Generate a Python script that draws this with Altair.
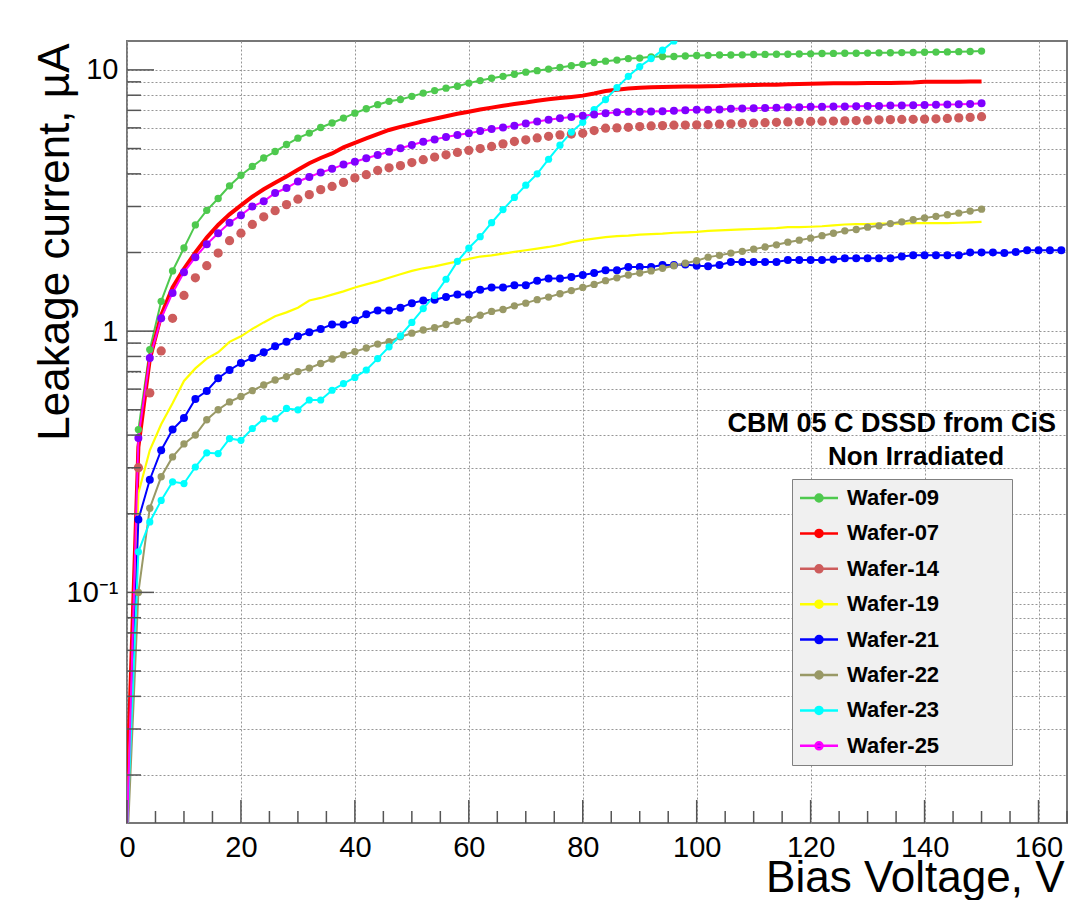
import altair as alt
import pandas as pd

# ---------------- data ----------------
series_names = ["Wafer-09", "Wafer-07", "Wafer-14", "Wafer-19",
                "Wafer-21", "Wafer-22", "Wafer-23", "Wafer-25"]

volt_150 = list(range(0, 151, 2))
volt_164 = list(range(0, 165, 2))
volt_98 = list(range(0, 99, 2))

w09 = [0.012, 0.42, 0.85, 1.3, 1.7, 2.08, 2.55, 2.9, 3.22, 3.6,
       3.95, 4.27, 4.6, 4.87, 5.18, 5.48, 5.73, 6.02, 6.26, 6.54,
       6.83, 7.1, 7.36, 7.58, 7.7, 7.92, 8.15, 8.33, 8.51, 8.66,
       8.9, 9.1, 9.29, 9.45, 9.62, 9.8, 9.93, 10.07, 10.21, 10.37,
       10.5, 10.67, 10.8, 10.9, 11.05, 11.1, 11.22, 11.25, 11.25, 11.3,
       11.35, 11.37, 11.4, 11.4, 11.42, 11.45, 11.46, 11.48, 11.48, 11.5,
       11.52, 11.55, 11.56, 11.58, 11.58, 11.6, 11.62, 11.63, 11.65, 11.66,
       11.68, 11.7, 11.72, 11.74, 11.76, 11.8]

w07 = [0.017, 0.36, 0.78, 1.15, 1.47, 1.73, 2.0, 2.28, 2.55, 2.8,
       3.03, 3.27, 3.49, 3.7, 3.91, 4.15, 4.39, 4.6, 4.79, 5.05,
       5.26, 5.47, 5.68, 5.89, 6.05, 6.2, 6.36, 6.5, 6.65, 6.79,
       6.92, 7.05, 7.17, 7.29, 7.4, 7.5, 7.62, 7.72, 7.8, 7.88,
       7.97, 8.12, 8.3, 8.4, 8.48, 8.55, 8.58, 8.6, 8.62, 8.63,
       8.63, 8.65, 8.67, 8.72, 8.73, 8.75, 8.77, 8.78, 8.82, 8.83,
       8.85, 8.86, 8.88, 8.88, 8.89, 8.9, 8.9, 8.91, 8.92, 8.94,
       9.0, 9.0, 9.01, 9.01, 9.02, 9.02]

w14 = [0.012, 0.30, 0.58, 0.84, 1.12, 1.37, 1.6, 1.78, 1.99, 2.22,
       2.37, 2.56, 2.74, 2.89, 3.05, 3.2, 3.33, 3.48, 3.58, 3.71,
       3.86, 3.97, 4.12, 4.22, 4.3, 4.42, 4.53, 4.64, 4.73, 4.83,
       4.92, 5.0, 5.09, 5.21, 5.32, 5.4, 5.49, 5.57, 5.64, 5.68,
       5.72, 5.86, 5.98, 6.0, 6.03, 6.07, 6.1, 6.12, 6.14, 6.15,
       6.16, 6.17, 6.2, 6.22, 6.24, 6.26, 6.28, 6.3, 6.32, 6.34,
       6.35, 6.36, 6.37, 6.38, 6.4, 6.42, 6.44, 6.45, 6.46, 6.47,
       6.48, 6.5, 6.52, 6.55, 6.58, 6.62]

w19 = [0.012, 0.24, 0.35, 0.44, 0.53, 0.645, 0.72, 0.785, 0.83, 0.91,
       0.955, 1.02, 1.08, 1.14, 1.18, 1.23, 1.31, 1.34, 1.38, 1.42,
       1.47, 1.51, 1.55, 1.6, 1.65, 1.7, 1.74, 1.77, 1.81, 1.85,
       1.89, 1.93, 1.95, 1.98, 2.01, 2.04, 2.07, 2.1, 2.14, 2.19,
       2.23, 2.26, 2.29, 2.31, 2.32, 2.34, 2.35, 2.36, 2.38, 2.39,
       2.4, 2.42, 2.43, 2.44, 2.45, 2.46, 2.47, 2.48, 2.5, 2.5,
       2.51, 2.52, 2.54, 2.56, 2.57, 2.57, 2.58, 2.58, 2.58, 2.59,
       2.59, 2.59, 2.59, 2.6, 2.61, 2.62]

w21 = [0.012, 0.19, 0.27, 0.35, 0.42, 0.465, 0.55, 0.59, 0.66, 0.71,
       0.755, 0.79, 0.83, 0.875, 0.91, 0.955, 0.99, 1.02, 1.06, 1.06,
       1.1, 1.16, 1.2, 1.2, 1.23, 1.28, 1.31, 1.32, 1.35, 1.38,
       1.38, 1.44, 1.47, 1.47, 1.5, 1.5, 1.56, 1.59, 1.59, 1.61,
       1.64, 1.67, 1.71, 1.71, 1.76, 1.76, 1.76, 1.79, 1.79, 1.8,
       1.78, 1.77, 1.79, 1.84, 1.84, 1.84, 1.84, 1.84, 1.87, 1.87,
       1.87, 1.87, 1.88, 1.9, 1.9, 1.9, 1.9, 1.9, 1.93, 1.95,
       1.95, 1.95, 1.95, 1.95, 2.0, 2.0, 2.0, 1.99, 2.01, 2.04,
       2.04, 2.04, 2.04]

w22 = [0.010, 0.10, 0.21, 0.277, 0.33, 0.37, 0.4, 0.458, 0.5, 0.536,
       0.562, 0.592, 0.622, 0.65, 0.67, 0.7, 0.722, 0.752, 0.782, 0.812,
       0.835, 0.862, 0.892, 0.912, 0.952, 0.982, 1.01, 1.03, 1.06, 1.09,
       1.11, 1.15, 1.19, 1.21, 1.25, 1.28, 1.32, 1.35, 1.39, 1.43,
       1.47, 1.51, 1.56, 1.6, 1.64, 1.67, 1.7, 1.74, 1.78, 1.82,
       1.86, 1.92, 1.95, 1.99, 2.02, 2.06, 2.1, 2.14, 2.19, 2.23,
       2.27, 2.32, 2.37, 2.42, 2.45, 2.5, 2.53, 2.58, 2.62, 2.67,
       2.71, 2.75, 2.79, 2.83, 2.88, 2.93]

w23 = [0.012, 0.143, 0.186, 0.225, 0.265, 0.261, 0.302, 0.342, 0.34, 0.388,
       0.382, 0.424, 0.462, 0.462, 0.506, 0.5, 0.545, 0.545, 0.594, 0.63,
       0.665, 0.71, 0.785, 0.871, 0.96, 1.08, 1.22, 1.37, 1.58, 1.85,
       2.08, 2.3, 2.6, 2.92, 3.25, 3.62, 4.0, 4.55, 5.15, 5.78,
       6.3, 7.05, 7.7, 8.55, 9.45, 10.3, 11.05, 11.9, 12.9, 14.0]

w25 = [0.012, 0.39, 0.79, 1.12, 1.4, 1.68, 1.92, 2.15, 2.37, 2.6,
       2.78, 3.0, 3.14, 3.38, 3.53, 3.74, 3.89, 4.05, 4.18, 4.34,
       4.45, 4.59, 4.72, 4.86, 5.01, 5.16, 5.31, 5.42, 5.53, 5.63,
       5.72, 5.83, 5.94, 6.02, 6.11, 6.23, 6.35, 6.44, 6.53, 6.6,
       6.67, 6.75, 6.83, 6.88, 6.92, 6.92, 6.93, 6.95, 6.98, 7.0,
       7.03, 7.04, 7.06, 7.1, 7.12, 7.13, 7.15, 7.17, 7.19, 7.2,
       7.22, 7.23, 7.24, 7.25, 7.26, 7.27, 7.28, 7.3, 7.31, 7.33,
       7.34, 7.35, 7.37, 7.38, 7.41, 7.45]

line_colors = ["#4ec94e", "#ff0000", "#cd5c5c", "#ffff00",
               "#0000ff", "#999966", "#00ffff", "#ff00ff"]
marker_colors = ["#4ec94e", "#ff0000", "#cd5c5c", "#ffff00",
                 "#0000ff", "#999966", "#00ffff", "#8000ff"]
line_widths = [2, 4, 2, 2.2, 2, 2, 2, 2]
marker_sizes = [54, 10, 86, 10, 64, 54, 52, 64]
marker_series = ["Wafer-09", "Wafer-14", "Wafer-21", "Wafer-22", "Wafer-23", "Wafer-25"]
line_series = ["Wafer-09", "Wafer-07", "Wafer-19", "Wafer-21", "Wafer-22", "Wafer-23", "Wafer-25"]

x_major = [0, 20, 40, 60, 80, 100, 120, 140, 160]
x_minor = [5, 10, 15, 25, 30, 35, 45, 50, 55, 65, 70, 75, 85, 90, 95,
           105, 110, 115, 125, 130, 135, 145, 150, 155, 165]
y_major = [0.1, 1, 10]
y_minor = [0.02, 0.03, 0.04, 0.05, 0.06, 0.07, 0.08, 0.09,
           0.2, 0.3, 0.4, 0.5, 0.6, 0.7, 0.8, 0.9,
           2, 3, 4, 5, 6, 7, 8, 9]
y_grid = sorted(y_major + y_minor)

header1 = "CBM 05 C DSSD from CiS"
header2 = "Non Irradiated"

# ---------------- table ----------------
rows = []
for name, volts, vals in [("Wafer-09", volt_150, w09), ("Wafer-07", volt_150, w07),
                          ("Wafer-14", volt_150, w14), ("Wafer-19", volt_150, w19),
                          ("Wafer-21", volt_164, w21), ("Wafer-22", volt_150, w22),
                          ("Wafer-23", volt_98, w23), ("Wafer-25", volt_150, w25)]:
    for v, i in zip(volts, vals):
        rows.append({"series": name, "V": v, "I": i})
df = pd.DataFrame(rows)


def lookup_expr(values, default):
    expr = str(default)
    for name, val in zip(series_names, values):
        expr = "datum.series == '%s' ? %s : (%s)" % (name, val, expr)
    return expr


W, H = 940, 782
FONT = "Liberation Sans"

xscale = alt.Scale(domain=[0, 165], nice=False, zero=False)
yscale = alt.Scale(type="log", domain=[0.0131, 12.9], nice=False)

x_enc = alt.X("V:Q", scale=xscale, axis=alt.Axis(
    values=x_major, grid=True, labelPadding=10, labelFlush=False,
    labelFontSize=29, labelFont=FONT, labelColor="black",
    title="Bias Voltage, V", titleAnchor="end", titleAlign="right",
    titleBaseline="alphabetic", titleX=937, titleY=68))
y_enc = alt.Y("I:Q", scale=yscale, axis=alt.Axis(
    values=y_grid, grid=True, labelOverlap=False, labelPadding=9,
    labelFlush=False, labelFontSize=29, labelFont=FONT, labelColor="black",
    labelExpr="datum.value == 10 ? '10' : (datum.value == 1 ? '1' : (datum.value == 0.1 ? '10\u207b\u00b9' : ''))",
    title="Leakage current, \u00b5A", titleAngle=270, titleAlign="right",
    titleBaseline="alphabetic", titleX=-59, titleY=2))

legend_path = "M-3.8,0H3.8M-0.7,0A0.7,0.7 0 1,1 0.7,0A0.7,0.7 0 1,1 -0.7,0Z"
pad = "\u2800" * 4

lines = alt.Chart(df).transform_filter(
    alt.FieldOneOfPredicate(field="series", oneOf=line_series)
).transform_calculate(
    sw=lookup_expr(line_widths, 2)
).mark_line(clip=True).encode(
    x=x_enc, y=y_enc,
    color=alt.Color("series:N", scale=alt.Scale(domain=series_names, range=line_colors),
                    legend=alt.Legend(
                        orient="none", legendX=665, legendY=438, title=None,
                        symbolType=legend_path, symbolSize=100, symbolStrokeWidth=2.5,
                        symbolOffset=8,
                        labelFont=FONT, labelFontWeight="bold", labelFontSize=22,
                        labelColor="black", labelOffset=17,
                        labelExpr="datum.label + '" + pad + "'",
                        fillColor="#f0f0f0", strokeColor="#808080",
                        padding=8, rowPadding=13.4, labelLimit=0)),
    strokeWidth=alt.StrokeWidth("sw:Q", scale=None),
    order=alt.Order("V:Q"),
)

points = alt.Chart(df).transform_filter(
    alt.FieldOneOfPredicate(field="series", oneOf=marker_series)
).transform_calculate(
    ms=lookup_expr(marker_sizes, 40)
).mark_circle(clip=True, opacity=1).encode(
    x=x_enc, y=y_enc,
    fill=alt.Fill("series:N", scale=alt.Scale(domain=series_names, range=marker_colors),
                  legend=None),
    size=alt.Size("ms:Q", scale=None),
)

tick_color = "#555555"
xt_major = alt.Chart(pd.DataFrame({"V": x_major})).mark_rule(
    color=tick_color, strokeWidth=1.5).encode(
    x=x_enc, y=alt.value(H), y2=alt.value(H - 23))
xt_minor = alt.Chart(pd.DataFrame({"V": x_minor})).mark_rule(
    color=tick_color, strokeWidth=1.5).encode(
    x=x_enc, y=alt.value(H), y2=alt.value(H - 12))
yt_major = alt.Chart(pd.DataFrame({"I": y_major})).mark_rule(
    color=tick_color, strokeWidth=1.5).encode(
    y=y_enc, x=alt.value(0), x2=alt.value(27))
yt_minor = alt.Chart(pd.DataFrame({"I": y_minor})).mark_rule(
    color=tick_color, strokeWidth=1.5).encode(
    y=y_enc, x=alt.value(0), x2=alt.value(14))

t1 = alt.Chart(pd.DataFrame({"t": [header1]})).mark_text(
    font=FONT, fontWeight="bold", fontSize=27, align="right", baseline="alphabetic",
    color="black").encode(text="t:N", x=alt.value(929), y=alt.value(391))
t2 = alt.Chart(pd.DataFrame({"t": [header2]})).mark_text(
    font=FONT, fontWeight="bold", fontSize=26, align="center", baseline="alphabetic",
    color="black").encode(text="t:N", x=alt.value(789), y=alt.value(424))

chart = alt.layer(lines, points, xt_major, xt_minor, yt_major, yt_minor, t1, t2).properties(
    width=W, height=H,
    autosize=alt.AutoSizeParams(type="none"),
    padding={"left": 127, "top": 41, "right": 3, "bottom": 77},
    background="white",
).configure_view(
    stroke="#777777", strokeWidth=2
).configure_axis(
    domain=False, ticks=False, grid=True, gridDash=[2, 2], gridColor="#969696",
    gridWidth=1, labelFont=FONT, labelFontSize=29, labelColor="black",
    titleFont=FONT, titleFontSize=44, titleFontWeight="normal", titleColor="black",
)

chart.save("out.html", embed_options={"renderer": "svg", "actions": False})
